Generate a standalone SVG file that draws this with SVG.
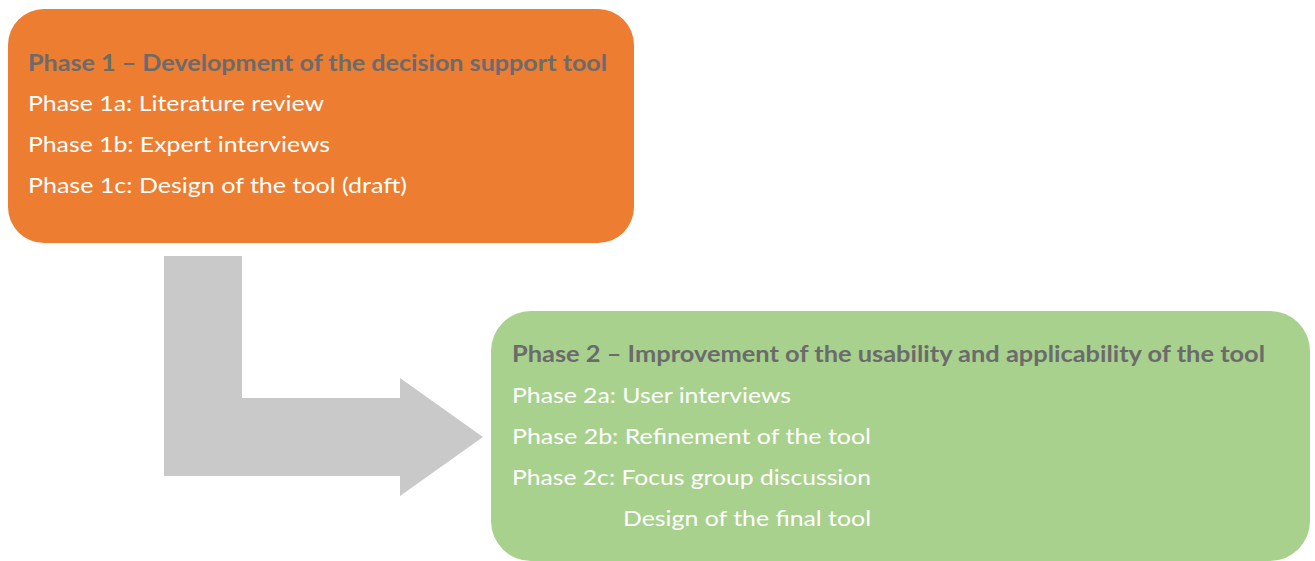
<svg xmlns="http://www.w3.org/2000/svg" width="1315" height="561" viewBox="0 0 1315 561">
  <style>
    .t { font-family: Lato, "Open Sans", "Liberation Sans", sans-serif; font-size: 22px; }
    .head { fill: #6b6b6b; font-weight: bold; }
    .item { fill: #ffffff; }
  </style>
  <rect width="1315" height="561" fill="#ffffff"/>

  <!-- elbow arrow from phase 1 to phase 2 -->
  <g id="connectors">
    <polygon points="164,256 242,256 242,398 400,398 400,378 483,437 400,496 400,476 164,476" fill="#c9c9c9"/>
  </g>

  <g id="phase1">
    <rect x="8" y="9" width="626" height="234" rx="36" ry="36" fill="#ed7d31"/>
    <text class="t head" x="28" y="71" textLength="579" lengthAdjust="spacingAndGlyphs">Phase 1 – Development of the decision support tool</text>
    <text class="t item" x="28" y="111" textLength="296" lengthAdjust="spacingAndGlyphs">Phase 1a: Literature review</text>
    <text class="t item" x="28" y="152" textLength="302" lengthAdjust="spacingAndGlyphs">Phase 1b: Expert interviews</text>
    <text class="t item" x="28" y="193" textLength="379" lengthAdjust="spacingAndGlyphs">Phase 1c: Design of the tool (draft)</text>
  </g>

  <g id="phase2">
    <rect x="491" y="311" width="819" height="250" rx="40" ry="40" fill="#a9d18e"/>
    <text class="t head" x="512" y="362" textLength="753" lengthAdjust="spacingAndGlyphs">Phase 2 – Improvement of the usability and applicability of the tool</text>
    <text class="t item" x="512" y="403" textLength="279" lengthAdjust="spacingAndGlyphs">Phase 2a: User interviews</text>
    <text class="t item" x="512" y="444" textLength="359" lengthAdjust="spacingAndGlyphs">Phase 2b: Refinement of the tool</text>
    <text class="t item" x="512" y="485" textLength="359" lengthAdjust="spacingAndGlyphs">Phase 2c: Focus group discussion</text>
    <text class="t item" x="623" y="526" textLength="248" lengthAdjust="spacingAndGlyphs">Design of the final tool</text>
  </g>
</svg>
